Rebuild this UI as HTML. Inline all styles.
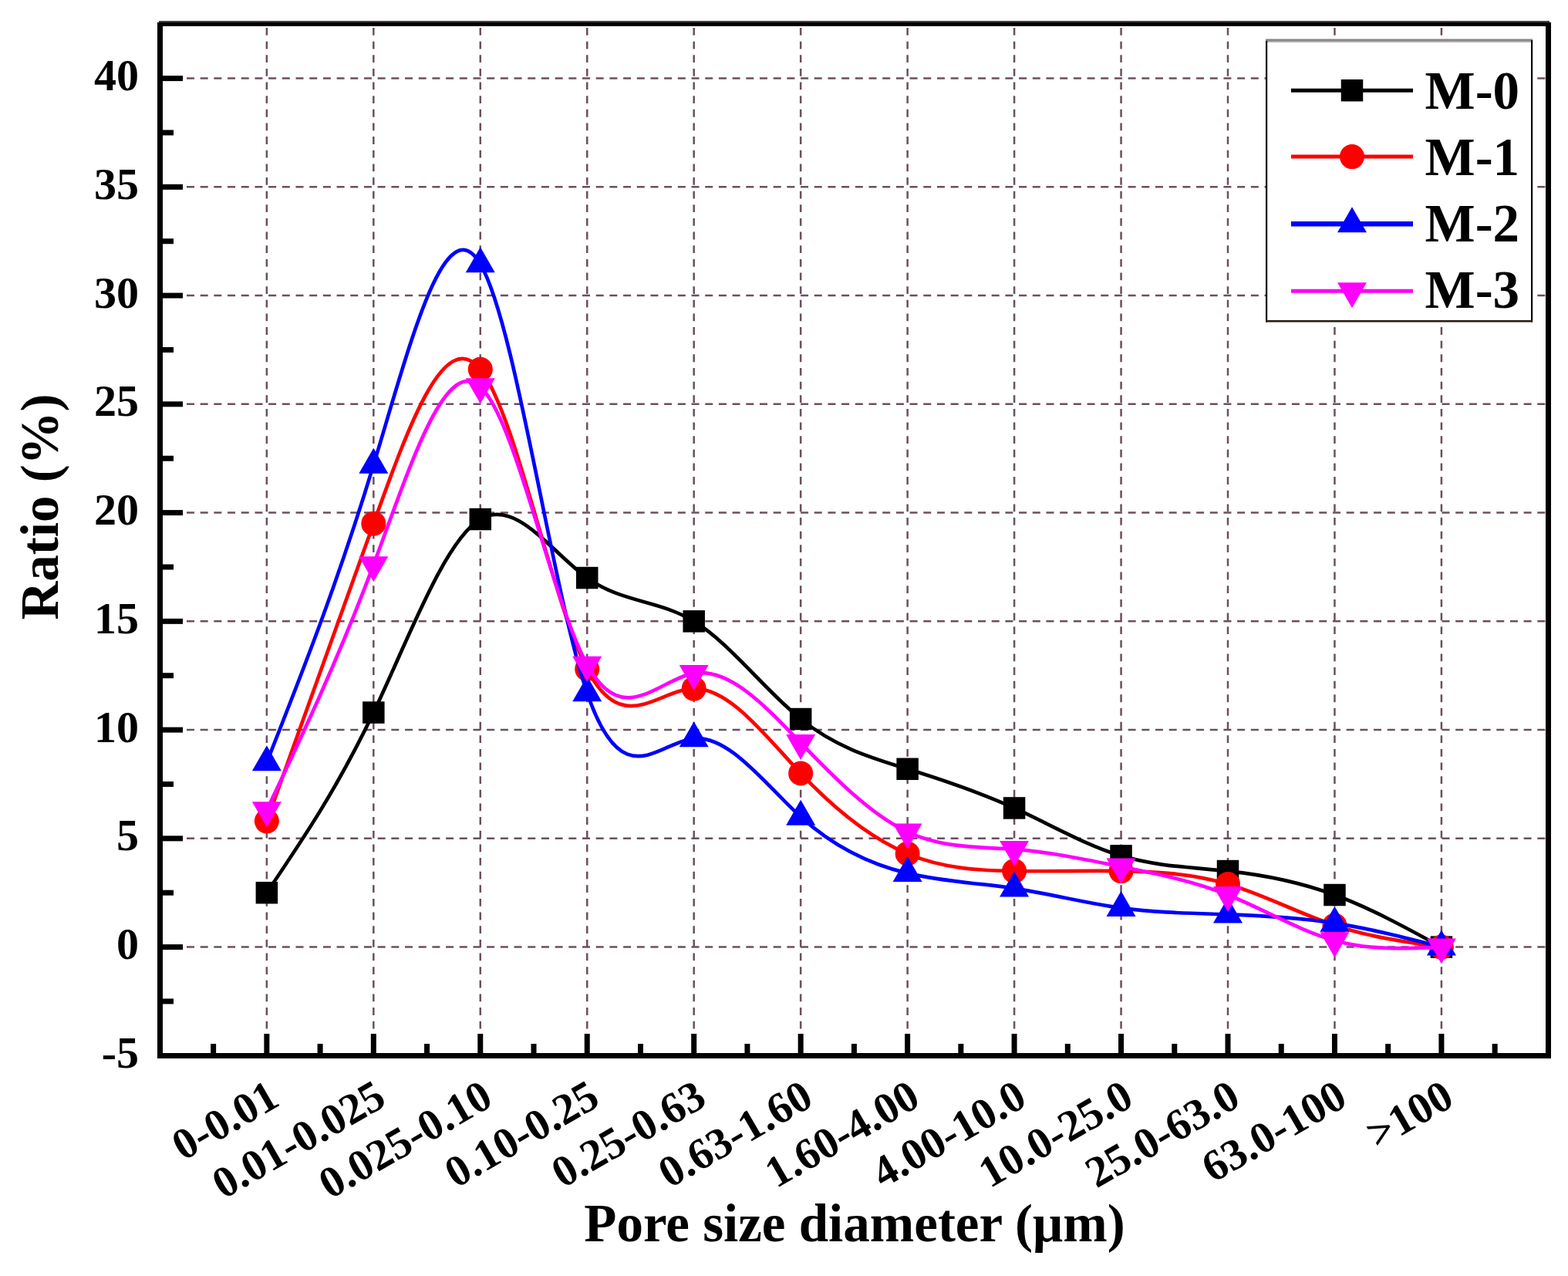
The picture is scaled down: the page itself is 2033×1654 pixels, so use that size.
<!DOCTYPE html>
<html><head><meta charset="utf-8"><title>Pore size distribution</title>
<style>
html,body{margin:0;padding:0;background:#fff;}
body{width:2033px;height:1654px;overflow:hidden;}
svg{display:block;}
text{font-family:"Liberation Serif","Times New Roman",serif;font-weight:bold;fill:#000;}
</style></head><body>
<svg width="2033" height="1654" viewBox="0 0 2033 1654">
<rect width="2033" height="1654" fill="#ffffff"/>

<g stroke="#6b4f5f" stroke-width="2.5" stroke-dasharray="10 7.69" fill="none"><line x1="206.62" y1="1227.60" x2="2007.5" y2="1227.60"/><line x1="206.62" y1="1086.85" x2="2007.5" y2="1086.85"/><line x1="206.62" y1="946.10" x2="2007.5" y2="946.10"/><line x1="206.62" y1="805.35" x2="2007.5" y2="805.35"/><line x1="206.62" y1="664.60" x2="2007.5" y2="664.60"/><line x1="206.62" y1="523.85" x2="2007.5" y2="523.85"/><line x1="206.62" y1="383.10" x2="2007.5" y2="383.10"/><line x1="206.62" y1="242.35" x2="2007.5" y2="242.35"/><line x1="206.62" y1="101.60" x2="2007.5" y2="101.60"/></g>
<g stroke="#6b4f5f" stroke-width="2.5" stroke-dasharray="9.8 7.84" fill="none"><line x1="345.86" y1="36" x2="345.86" y2="1368.0"/><line x1="484.32" y1="36" x2="484.32" y2="1368.0"/><line x1="622.78" y1="36" x2="622.78" y2="1368.0"/><line x1="761.24" y1="36" x2="761.24" y2="1368.0"/><line x1="899.70" y1="36" x2="899.70" y2="1368.0"/><line x1="1038.16" y1="36" x2="1038.16" y2="1368.0"/><line x1="1176.62" y1="36" x2="1176.62" y2="1368.0"/><line x1="1315.08" y1="36" x2="1315.08" y2="1368.0"/><line x1="1453.54" y1="36" x2="1453.54" y2="1368.0"/><line x1="1592.00" y1="36" x2="1592.00" y2="1368.0"/><line x1="1730.46" y1="36" x2="1730.46" y2="1368.0"/><line x1="1868.92" y1="36" x2="1868.92" y2="1368.0"/></g>
<g stroke="#000" stroke-width="7" fill="none"><line x1="207.5" y1="1227.60" x2="237" y2="1227.60"/><line x1="207.5" y1="1086.85" x2="237" y2="1086.85"/><line x1="207.5" y1="946.10" x2="237" y2="946.10"/><line x1="207.5" y1="805.35" x2="237" y2="805.35"/><line x1="207.5" y1="664.60" x2="237" y2="664.60"/><line x1="207.5" y1="523.85" x2="237" y2="523.85"/><line x1="207.5" y1="383.10" x2="237" y2="383.10"/><line x1="207.5" y1="242.35" x2="237" y2="242.35"/><line x1="207.5" y1="101.60" x2="237" y2="101.60"/><line x1="207.5" y1="1297.97" x2="225" y2="1297.97"/><line x1="207.5" y1="1157.22" x2="225" y2="1157.22"/><line x1="207.5" y1="1016.47" x2="225" y2="1016.47"/><line x1="207.5" y1="875.72" x2="225" y2="875.72"/><line x1="207.5" y1="734.97" x2="225" y2="734.97"/><line x1="207.5" y1="594.22" x2="225" y2="594.22"/><line x1="207.5" y1="453.47" x2="225" y2="453.47"/><line x1="207.5" y1="312.72" x2="225" y2="312.72"/><line x1="207.5" y1="171.97" x2="225" y2="171.97"/><line x1="345.86" y1="1368.0" x2="345.86" y2="1340"/><line x1="484.32" y1="1368.0" x2="484.32" y2="1340"/><line x1="622.78" y1="1368.0" x2="622.78" y2="1340"/><line x1="761.24" y1="1368.0" x2="761.24" y2="1340"/><line x1="899.70" y1="1368.0" x2="899.70" y2="1340"/><line x1="1038.16" y1="1368.0" x2="1038.16" y2="1340"/><line x1="1176.62" y1="1368.0" x2="1176.62" y2="1340"/><line x1="1315.08" y1="1368.0" x2="1315.08" y2="1340"/><line x1="1453.54" y1="1368.0" x2="1453.54" y2="1340"/><line x1="1592.00" y1="1368.0" x2="1592.00" y2="1340"/><line x1="1730.46" y1="1368.0" x2="1730.46" y2="1340"/><line x1="1868.92" y1="1368.0" x2="1868.92" y2="1340"/><line x1="276.63" y1="1368.0" x2="276.63" y2="1353"/><line x1="415.09" y1="1368.0" x2="415.09" y2="1353"/><line x1="553.55" y1="1368.0" x2="553.55" y2="1353"/><line x1="692.01" y1="1368.0" x2="692.01" y2="1353"/><line x1="830.47" y1="1368.0" x2="830.47" y2="1353"/><line x1="968.93" y1="1368.0" x2="968.93" y2="1353"/><line x1="1107.39" y1="1368.0" x2="1107.39" y2="1353"/><line x1="1245.85" y1="1368.0" x2="1245.85" y2="1353"/><line x1="1384.31" y1="1368.0" x2="1384.31" y2="1353"/><line x1="1522.77" y1="1368.0" x2="1522.77" y2="1353"/><line x1="1661.23" y1="1368.0" x2="1661.23" y2="1353"/><line x1="1799.69" y1="1368.0" x2="1799.69" y2="1353"/><line x1="1938.15" y1="1368.0" x2="1938.15" y2="1353"/></g>
<path d="M345.86,1157.22C392.01,1088.94 438.17,1020.66 484.32,923.58C530.47,826.50 576.63,700.64 622.78,673.04C668.93,645.45 715.09,716.13 761.24,749.05C807.39,781.97 853.55,777.15 899.70,805.35C945.85,833.55 992.01,894.79 1038.16,932.02C1084.31,969.26 1130.47,982.50 1176.62,996.77C1222.77,1011.04 1268.93,1026.33 1315.08,1047.44C1361.23,1068.55 1407.39,1095.47 1453.54,1109.37C1499.69,1123.27 1545.85,1124.16 1592.00,1129.07C1638.15,1133.99 1684.31,1142.95 1730.46,1160.04C1776.61,1177.13 1822.77,1202.37 1868.92,1227.60" fill="none" stroke="#000000" stroke-width="4.7" stroke-linejoin="round"/>
<rect x="331.61" y="1142.97" width="28.5" height="28.5" fill="#000000"/><rect x="470.07" y="909.33" width="28.5" height="28.5" fill="#000000"/><rect x="608.53" y="658.79" width="28.5" height="28.5" fill="#000000"/><rect x="746.99" y="734.80" width="28.5" height="28.5" fill="#000000"/><rect x="885.45" y="791.10" width="28.5" height="28.5" fill="#000000"/><rect x="1023.91" y="917.77" width="28.5" height="28.5" fill="#000000"/><rect x="1162.37" y="982.52" width="28.5" height="28.5" fill="#000000"/><rect x="1300.83" y="1033.19" width="28.5" height="28.5" fill="#000000"/><rect x="1439.29" y="1095.12" width="28.5" height="28.5" fill="#000000"/><rect x="1577.75" y="1114.82" width="28.5" height="28.5" fill="#000000"/><rect x="1716.21" y="1145.79" width="28.5" height="28.5" fill="#000000"/><rect x="1854.67" y="1213.35" width="28.5" height="28.5" fill="#000000"/>
<path d="M345.86,1064.33C392.01,935.73 438.17,807.13 484.32,678.67C530.47,550.22 576.63,421.90 622.78,478.81C668.93,535.72 715.09,777.86 761.24,867.28C807.39,956.70 853.55,893.41 899.70,892.61C945.85,891.82 992.01,953.54 1038.16,1002.40C1084.31,1051.26 1130.47,1087.26 1176.62,1106.55C1222.77,1125.85 1268.93,1128.44 1315.08,1129.07C1361.23,1129.71 1407.39,1128.40 1453.54,1129.07C1499.69,1129.75 1545.85,1132.40 1592.00,1145.96C1638.15,1159.53 1684.31,1184.02 1730.46,1199.45C1776.61,1214.88 1822.77,1221.24 1868.92,1227.60" fill="none" stroke="#ff0000" stroke-width="4.7" stroke-linejoin="round"/>
<circle cx="345.86" cy="1064.33" r="16.0" fill="#ff0000"/><circle cx="484.32" cy="678.67" r="16.0" fill="#ff0000"/><circle cx="622.78" cy="478.81" r="16.0" fill="#ff0000"/><circle cx="761.24" cy="867.28" r="16.0" fill="#ff0000"/><circle cx="899.70" cy="892.61" r="16.0" fill="#ff0000"/><circle cx="1038.16" cy="1002.40" r="16.0" fill="#ff0000"/><circle cx="1176.62" cy="1106.55" r="16.0" fill="#ff0000"/><circle cx="1315.08" cy="1129.07" r="16.0" fill="#ff0000"/><circle cx="1453.54" cy="1129.07" r="16.0" fill="#ff0000"/><circle cx="1592.00" cy="1145.96" r="16.0" fill="#ff0000"/><circle cx="1730.46" cy="1199.45" r="16.0" fill="#ff0000"/><circle cx="1868.92" cy="1227.60" r="16.0" fill="#ff0000"/>
<path d="M345.86,988.32C392.01,871.39 438.17,754.45 484.32,602.67C530.47,450.89 576.63,264.27 622.78,342.28C668.93,420.29 715.09,762.93 761.24,898.24C807.39,1033.56 853.55,961.56 899.70,957.36C945.85,953.16 992.01,1016.77 1038.16,1058.70C1084.31,1100.63 1130.47,1120.88 1176.62,1131.89C1222.77,1142.90 1268.93,1144.67 1315.08,1151.59C1361.23,1158.52 1407.39,1170.60 1453.54,1176.93C1499.69,1183.26 1545.85,1183.83 1592.00,1185.38C1638.15,1186.92 1684.31,1189.44 1730.46,1196.63C1776.61,1203.83 1822.77,1215.72 1868.92,1227.60" fill="none" stroke="#0000ff" stroke-width="4.7" stroke-linejoin="round"/>
<polygon points="345.86,966.32 364.86,999.32 326.86,999.32" fill="#0000ff"/><polygon points="484.32,580.67 503.32,613.67 465.32,613.67" fill="#0000ff"/><polygon points="622.78,320.28 641.78,353.28 603.78,353.28" fill="#0000ff"/><polygon points="761.24,876.24 780.24,909.24 742.24,909.24" fill="#0000ff"/><polygon points="899.70,935.36 918.70,968.36 880.70,968.36" fill="#0000ff"/><polygon points="1038.16,1036.70 1057.16,1069.70 1019.16,1069.70" fill="#0000ff"/><polygon points="1176.62,1109.89 1195.62,1142.89 1157.62,1142.89" fill="#0000ff"/><polygon points="1315.08,1129.59 1334.08,1162.59 1296.08,1162.59" fill="#0000ff"/><polygon points="1453.54,1154.93 1472.54,1187.93 1434.54,1187.93" fill="#0000ff"/><polygon points="1592.00,1163.38 1611.00,1196.38 1573.00,1196.38" fill="#0000ff"/><polygon points="1730.46,1174.63 1749.46,1207.63 1711.46,1207.63" fill="#0000ff"/><polygon points="1868.92,1205.60 1887.92,1238.60 1849.92,1238.60" fill="#0000ff"/>
<path d="M345.86,1050.25C392.01,952.93 438.17,855.60 484.32,732.16C530.47,608.72 576.63,459.17 622.78,501.33C668.93,543.49 715.09,777.37 761.24,861.65C807.39,945.93 853.55,880.62 899.70,872.91C945.85,865.20 992.01,915.10 1038.16,962.99C1084.31,1010.88 1130.47,1056.78 1176.62,1078.40C1222.77,1100.03 1268.93,1097.40 1315.08,1100.92C1361.23,1104.45 1407.39,1114.15 1453.54,1123.44C1499.69,1132.74 1545.85,1141.65 1592.00,1160.04C1638.15,1178.43 1684.31,1206.31 1730.46,1219.15C1776.61,1232.00 1822.77,1229.80 1868.92,1227.60" fill="none" stroke="#ff00ff" stroke-width="4.7" stroke-linejoin="round"/>
<polygon points="326.86,1039.25 364.86,1039.25 345.86,1072.25" fill="#ff00ff"/><polygon points="465.32,721.16 503.32,721.16 484.32,754.16" fill="#ff00ff"/><polygon points="603.78,490.33 641.78,490.33 622.78,523.33" fill="#ff00ff"/><polygon points="742.24,850.65 780.24,850.65 761.24,883.65" fill="#ff00ff"/><polygon points="880.70,861.91 918.70,861.91 899.70,894.91" fill="#ff00ff"/><polygon points="1019.16,951.99 1057.16,951.99 1038.16,984.99" fill="#ff00ff"/><polygon points="1157.62,1067.40 1195.62,1067.40 1176.62,1100.40" fill="#ff00ff"/><polygon points="1296.08,1089.92 1334.08,1089.92 1315.08,1122.92" fill="#ff00ff"/><polygon points="1434.54,1112.44 1472.54,1112.44 1453.54,1145.44" fill="#ff00ff"/><polygon points="1573.00,1149.04 1611.00,1149.04 1592.00,1182.04" fill="#ff00ff"/><polygon points="1711.46,1208.15 1749.46,1208.15 1730.46,1241.15" fill="#ff00ff"/><polygon points="1849.92,1216.60 1887.92,1216.60 1868.92,1249.60" fill="#ff00ff"/>
<rect x="206" y="27" width="1803" height="2.2" fill="#4a3e3e"/>
<path d="M204,29H2011V1372H204Z M211,34V1365H2004V34Z" fill="#000" fill-rule="evenodd"/>
<g font-size="58"><text x="180" y="1383.85" text-anchor="end">-5</text><text x="180" y="1243.10" text-anchor="end">0</text><text x="180" y="1102.35" text-anchor="end">5</text><text x="180" y="961.60" text-anchor="end">10</text><text x="180" y="820.85" text-anchor="end">15</text><text x="180" y="680.10" text-anchor="end">20</text><text x="180" y="539.35" text-anchor="end">25</text><text x="180" y="398.60" text-anchor="end">30</text><text x="180" y="257.85" text-anchor="end">35</text><text x="180" y="117.10" text-anchor="end">40</text></g>
<g font-size="57"><text transform="translate(344.86,1397) rotate(-30)" text-anchor="end" dy="0.7em">0-0.01</text><text transform="translate(483.32,1397) rotate(-30)" text-anchor="end" dy="0.7em">0.01-0.025</text><text transform="translate(621.78,1397) rotate(-30)" text-anchor="end" dy="0.7em">0.025-0.10</text><text transform="translate(760.24,1397) rotate(-30)" text-anchor="end" dy="0.7em">0.10-0.25</text><text transform="translate(898.70,1397) rotate(-30)" text-anchor="end" dy="0.7em">0.25-0.63</text><text transform="translate(1037.16,1397) rotate(-30)" text-anchor="end" dy="0.7em">0.63-1.60</text><text transform="translate(1175.62,1397) rotate(-30)" text-anchor="end" dy="0.7em">1.60-4.00</text><text transform="translate(1314.08,1397) rotate(-30)" text-anchor="end" dy="0.7em">4.00-10.0</text><text transform="translate(1452.54,1397) rotate(-30)" text-anchor="end" dy="0.7em">10.0-25.0</text><text transform="translate(1591.00,1397) rotate(-30)" text-anchor="end" dy="0.7em">25.0-63.0</text><text transform="translate(1729.46,1397) rotate(-30)" text-anchor="end" dy="0.7em">63.0-100</text><text transform="translate(1867.92,1397) rotate(-30)" text-anchor="end" dy="0.7em">&gt;100</text></g>
<text x="1108" y="1609" font-size="69" text-anchor="middle">Pore size diameter (&#956;m)</text>
<text transform="translate(75,657) rotate(-90)" font-size="69" text-anchor="middle">Ratio (%)</text>
<rect x="1641" y="51" width="346" height="366" fill="#ffffff"/>
<rect x="1641" y="50.5" width="346" height="2.5" fill="#858585"/>
<rect x="1643" y="53" width="342" height="2" fill="#b8a8b8"/>
<rect x="1641" y="53" width="2.2" height="364.5" fill="#000"/>
<rect x="1985" y="52" width="2.2" height="365.5" fill="#000"/>
<rect x="1641" y="415" width="346" height="2.6" fill="#2a2018"/>
<line x1="1674" y1="117.2" x2="1832" y2="117.2" stroke="#000000" stroke-width="5"/>
<rect x="1738.75" y="102.95" width="28.5" height="28.5" fill="#000000"/>
<text x="1847.5" y="140.9" font-size="69">M-0</text>
<line x1="1674" y1="203.1" x2="1832" y2="203.1" stroke="#ff0000" stroke-width="5"/>
<circle cx="1753.00" cy="203.10" r="16.0" fill="#ff0000"/>
<text x="1847.5" y="226.7" font-size="69">M-1</text>
<line x1="1674" y1="290.2" x2="1832" y2="290.2" stroke="#0000ff" stroke-width="6.5"/>
<polygon points="1753.00,268.20 1772.00,301.20 1734.00,301.20" fill="#0000ff"/>
<text x="1847.5" y="312.6" font-size="69">M-2</text>
<line x1="1674" y1="377.2" x2="1832" y2="377.2" stroke="#ff00ff" stroke-width="5"/>
<polygon points="1734.00,366.20 1772.00,366.20 1753.00,399.20" fill="#ff00ff"/>
<text x="1847.5" y="398.5" font-size="69">M-3</text>
</svg>
</body></html>
